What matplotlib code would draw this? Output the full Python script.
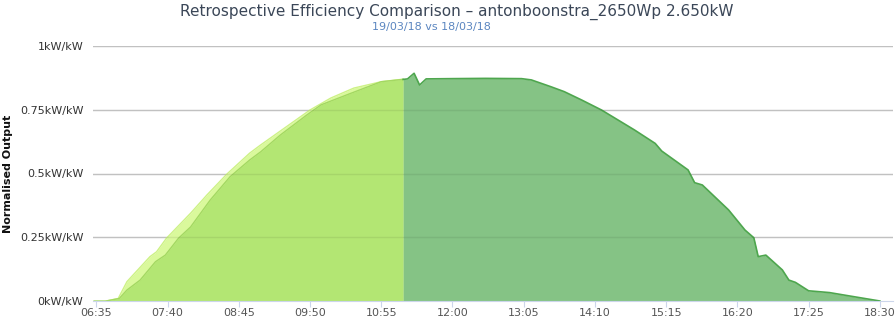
import matplotlib
matplotlib.use("Agg")
import matplotlib.pyplot as plt
import numpy as np

# 19/03/18 (today) normalised output
today_times = ["06:33", "06:44", "06:50", "06:56", "07:03", "07:15", "07:29", "07:38",
               "07:50", "08:01", "08:19", "08:37", "08:55", "09:05", "09:23", "09:47",
               "10:00", "10:27", "10:55", "11:15", "11:19", "11:25", "11:30", "11:36",
               "12:00", "12:30", "13:03", "13:12", "13:30", "13:42", "13:58", "14:16",
               "14:31", "14:46", "15:05", "15:11", "15:35", "15:41", "15:48", "16:12",
               "16:27", "16:35", "16:39", "16:46", "17:01", "17:07", "17:13", "17:25",
               "17:44", "18:02", "18:30"]
today_vals = [0.0, 0.0, 0.005, 0.01, 0.043, 0.082, 0.154, 0.18,
              0.246, 0.29, 0.396, 0.487, 0.553, 0.585, 0.651, 0.729,
              0.769, 0.814, 0.86, 0.869, 0.871, 0.893, 0.847, 0.871,
              0.872, 0.873, 0.872, 0.867, 0.84, 0.821, 0.788, 0.749,
              0.71, 0.671, 0.618, 0.588, 0.514, 0.464, 0.455, 0.357,
              0.278, 0.248, 0.174, 0.18, 0.122, 0.082, 0.073, 0.04,
              0.033, 0.02, 0.0]

# 18/03/18 (comparison) normalised output, shown up to now
prev_times = ["06:44", "06:55", "07:03", "07:24", "07:30", "07:39", "08:01", "08:16",
              "08:34", "08:55", "09:05", "09:50", "10:09", "10:30", "10:55", "11:15"]
prev_vals = [0.0, 0.01, 0.076, 0.174, 0.193, 0.246, 0.344, 0.416,
             0.497, 0.58, 0.612, 0.749, 0.796, 0.835, 0.86, 0.87]

split_time = "11:15"
tick_labels = ["06:35", "07:40", "08:45", "09:50", "10:55", "12:00",
               "13:05", "14:10", "15:15", "16:20", "17:25", "18:30"]
y_ticks = [0, 0.25, 0.5, 0.75, 1]
y_labels = ["0kW/kW", "0.25kW/kW", "0.5kW/kW", "0.75kW/kW", "1kW/kW"]


def to_min(s):
    h, m = s.split(":")
    return int(h) * 60 + int(m)


def main():
    plt.rcParams["font.family"] = ["DejaVu Sans"]
    fig = plt.figure(figsize=(8.96, 3.21), dpi=100)
    ax = fig.add_axes([93 / 896, 20 / 321, 800 / 896, 255 / 321])

    tx = np.array([to_min(t) for t in today_times])
    ty = np.array(today_vals)
    px = np.array([to_min(t) for t in prev_times])
    py = np.array(prev_vals)
    sx = to_min(split_time)

    # grid under the areas, faint overlay on top so it shows through
    for v in y_ticks[1:]:
        ax.axhline(v, color="#d0d0d0", lw=1, zorder=0.5)
        ax.axhline(v, color="black", alpha=0.07, lw=1, zorder=3)

    # comparison day (light)
    ax.fill_between(px, 0, py, color="#daf99c", lw=0, zorder=1)
    ax.plot(px, py, color="#cdf285", lw=1, zorder=1.1)

    before = tx <= sx
    after = tx >= sx
    ax.fill_between(tx[before], 0, ty[before], color="#b3e673", lw=0, zorder=2)
    ax.plot(tx[before], ty[before], color="#a3d862", lw=1, zorder=2.1)
    ax.fill_between(tx[after], 0, ty[after], color="#85c385", lw=0, zorder=2)
    ax.plot(tx[after], ty[after], color="#4ea64e", lw=1.2, zorder=2.1)

    ax.set_xlim(to_min("06:32"), to_min("18:42"))
    ax.set_ylim(0, 1)
    ax.set_xticks([to_min(t) for t in tick_labels])
    ax.set_xticklabels(tick_labels, fontsize=8, color="#555555")
    ax.set_yticks(y_ticks)
    ax.set_yticklabels(y_labels, fontsize=8, color="#333333")
    ax.tick_params(axis="x", length=4, color="#ccd6eb", pad=1)
    ax.tick_params(axis="y", length=0, pad=7)
    for side in ["top", "right", "left"]:
        ax.spines[side].set_visible(False)
    ax.spines["bottom"].set_color("#ccd6eb")
    ax.set_ylabel("Normalised Output", fontsize=8, fontweight="bold",
                  color="#111111")
    ax.yaxis.set_label_coords(-0.1, 0.5)

    fig.text(457 / 896, 1 - 12 / 321,
             "Retrospective Efficiency Comparison \u2013 antonboonstra_2650Wp 2.650kW",
             ha="center", va="center", fontsize=11, color="#3b4758")
    fig.text(431 / 896, 1 - 27 / 321, "19/03/18 vs 18/03/18",
             ha="center", va="center", fontsize=8, color="#5b86c0")

    fig.savefig("out.png", dpi=100)


if __name__ == "__main__":
    main()
